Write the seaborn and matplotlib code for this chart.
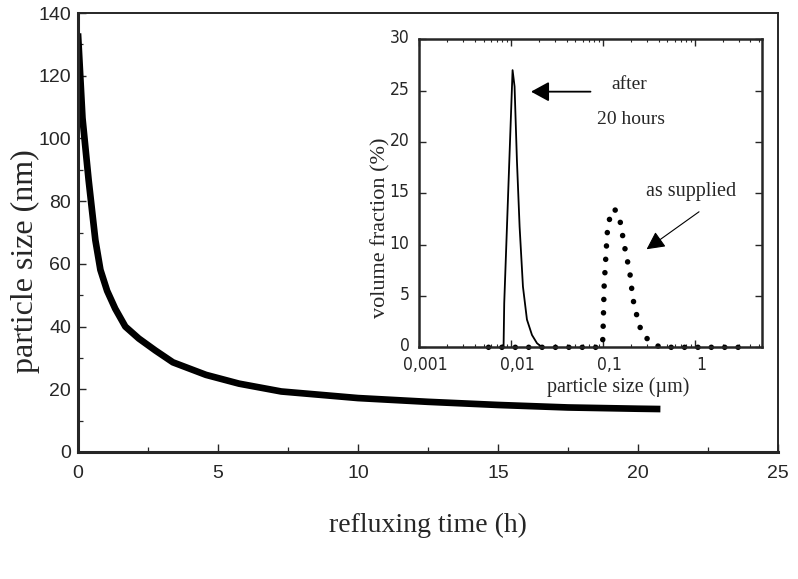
import numpy as np
import pandas as pd
import matplotlib
matplotlib.use("Agg")
import matplotlib.pyplot as plt
import matplotlib.transforms as mtransforms
import seaborn as sns
from matplotlib import font_manager
from matplotlib.ticker import FixedLocator, LogLocator, NullFormatter, FixedFormatter

# ---------------- data ----------------
reflux_time_h = [0, 0.16, 0.38, 0.5, 0.62, 0.8, 1.04, 1.33, 1.69, 2.17, 2.76, 3.39, 4.57,
                 5.75, 7.26, 10.0, 12.5, 15.0, 17.5, 20.0, 20.8]
particle_size_nm = [133.5, 106.5, 86.7, 77.1, 67.6, 58.1, 51.4, 45.7, 40.0, 36.2, 32.4, 28.6,
                    24.6, 21.8, 19.3, 17.2, 16.0, 15.0, 14.2, 13.8, 13.7]

after20h_size_um = [0.00825, 0.00839, 0.01034, 0.01087, 0.01153, 0.01233, 0.01341,
                    0.01482, 0.01681, 0.01905, 0.0216]
after20h_volfrac = [0.0, 4.3, 27.0, 25.4, 18.2, 11.75, 5.9, 2.7, 1.2, 0.4, 0.0]

supplied_size_um = [0.00566, 0.0951, 0.0992, 0.1025, 0.1106, 0.1163, 0.1329, 0.152,
                    0.1709, 0.1954, 0.2107, 0.2449, 0.2777, 0.357, 0.4222, 4.05]
supplied_volfrac = [0.0, 0.0, 0.8, 6.0, 11.1, 12.4, 13.5, 12.4,
                    9.8, 7.2, 4.7, 2.2, 1.1, 0.3, 0.0, 0.0]

main_xticks = [0, 5, 10, 15, 20, 25]
main_xminor = [2.5, 7.5, 12.5, 17.5, 22.5]
main_yticks = [0, 20, 40, 60, 80, 100, 120, 140]
main_yminor = [10, 30, 50, 70, 90, 110, 130]
inset_xticks = [0.001, 0.01, 0.1, 1]
inset_xticklabels = ["0,001", "0,01", "0,1", "1"]
inset_yticks = [0, 5, 10, 15, 20, 25, 30]

# ---------------- style ----------------
sns.set_style("ticks")
fonts = font_manager.fontManager.ttflist
avail = {f.name for f in fonts}
SANS = "Liberation Sans"
SERIF = "Liberation Serif"
if "Liberation Sans Narrow" in avail:
    NARROW_FAMILY, NARROW_STRETCH = "Liberation Sans Narrow", "normal"
elif any(f.name == "DejaVu Sans" and str(f.stretch) in ("condensed", "semi-condensed")
         for f in fonts):
    NARROW_FAMILY, NARROW_STRETCH = "DejaVu Sans", "condensed"
else:
    NARROW_FAMILY, NARROW_STRETCH = "Liberation Sans", "normal"
plt.rcParams["font.family"] = [SANS, "DejaVu Sans"]
plt.rcParams["axes.linewidth"] = 1.4

fig = plt.figure(figsize=(7.98, 5.79), dpi=100)
fig.patch.set_facecolor("white")

# ---------------- main axes ----------------
ax = fig.add_axes([78 / 798, 1 - 452 / 579, 700 / 798, 439 / 579])
main_df = pd.DataFrame({"t": reflux_time_h, "d": particle_size_nm})
sns.lineplot(data=main_df, x="t", y="d", ax=ax, color="black", lw=4.8,
             sort=False, estimator=None, solid_capstyle="butt",
             solid_joinstyle="round")
ax.set_xlim(0, 25)
ax.set_ylim(0, 140)
ax.xaxis.set_major_locator(FixedLocator(main_xticks))
ax.xaxis.set_minor_locator(FixedLocator(main_xminor))
ax.yaxis.set_major_locator(FixedLocator(main_yticks))
ax.yaxis.set_minor_locator(FixedLocator(main_yminor))
ax.tick_params(which="major", direction="in", length=6, width=1.0, labelsize=14)
ax.tick_params(which="minor", direction="in", length=3.5, width=0.9)
ax.tick_params(axis="x", which="major", pad=9)
ax.tick_params(axis="y", which="major", pad=5)
for lab in ax.get_xticklabels() + ax.get_yticklabels():
    lab.set_fontfamily(SANS)
for s in ["left", "bottom"]:
    ax.spines[s].set_linewidth(2.2)
for s in ["top", "right"]:
    ax.spines[s].set_linewidth(1.4)

ax.set_xlabel("refluxing time (h)", fontsize=20, family=SERIF, va="center")
ax.xaxis.set_label_coords(0.5, (452 - 525) / 439)
ax.set_ylabel("particle size (nm)", fontsize=23, family=SERIF, va="center")
ax.yaxis.set_label_coords((25 - 78) / 700, (452 - 261) / 439)

# ---------------- inset ----------------
ins = fig.add_axes([419.3 / 798, 1 - 347.3 / 579, 342.4 / 798, 308 / 579])
ins.set_facecolor("white")
ins.set_xscale("log")
a_df = pd.DataFrame({"s": after20h_size_um, "v": after20h_volfrac})
b_df = pd.DataFrame({"s": supplied_size_um, "v": supplied_volfrac})
sns.lineplot(data=a_df, x="s", y="v", ax=ins, color="black", lw=1.3,
             sort=False, estimator=None)
sns.lineplot(data=b_df, x="s", y="v", ax=ins, color="black", lw=4.0,
             sort=False, estimator=None, linestyle=(0, (0.01, 2.4)),
             dash_capstyle="round", clip_on=False)
ins.set_xlim(0.001, 5.3)
ins.set_ylim(0, 30)
ins.xaxis.set_major_locator(FixedLocator(inset_xticks))
ins.xaxis.set_major_formatter(FixedFormatter(inset_xticklabels))
ins.xaxis.set_minor_locator(LogLocator(base=10, subs=np.arange(2, 10) * 1.0, numticks=20))
ins.xaxis.set_minor_formatter(NullFormatter())
ins.yaxis.set_major_locator(FixedLocator(inset_yticks))
ins.tick_params(which="major", direction="in", length=5, width=1.0, labelsize=12.5,
                top=True, right=True)
ins.tick_params(which="minor", direction="in", length=2.5, width=0.8, top=True, right=True)
ins.tick_params(axis="x", which="major", pad=6)
ins.tick_params(axis="y", which="major", pad=7)
for lab in ins.get_xticklabels() + ins.get_yticklabels():
    lab.set_fontfamily(NARROW_FAMILY)
    lab.set_fontstretch(NARROW_STRETCH)
shift_right = mtransforms.ScaledTranslation(0.06, 0, fig.dpi_scale_trans)
for lab in ins.get_xticklabels():
    lab.set_transform(lab.get_transform() + shift_right)
shift_up = mtransforms.ScaledTranslation(0, 0.03, fig.dpi_scale_trans)
for lab in ins.get_yticklabels():
    lab.set_transform(lab.get_transform() + shift_up)
for s in ins.spines.values():
    s.set_linewidth(1.8)

ins.set_xlabel("particle size (\u00b5m)", fontsize=14.5, family=SERIF, va="center")
ins.xaxis.set_label_coords((618 - 419.3) / 342.4, (347.3 - 387) / 308)
ins.set_ylabel("volume fraction (%)", fontsize=16, family=SERIF, va="center")
ins.yaxis.set_label_coords((381 - 419.3) / 342.4, (347.3 - 227.5) / 308)

# annotations
ins.text(0.190, 25.55, "after", fontsize=14, family=SERIF, ha="center", va="center")
ins.text(0.2018, 22.2, "20 hours", fontsize=14, family=SERIF, ha="center", va="center")
ins.text(0.895, 15.15, "as supplied", fontsize=14.5, family=SERIF, ha="center", va="center")
ins.annotate("", xy=(0.0164, 24.9), xytext=(0.0728, 24.9),
             arrowprops=dict(arrowstyle="-|>,head_length=0.55,head_width=0.3",
                             lw=1.3, color="black", mutation_scale=20,
                             shrinkA=0, shrinkB=0))
ins.annotate("", xy=(0.2965, 9.55), xytext=(1.103, 13.2),
             arrowprops=dict(arrowstyle="-|>,head_length=0.55,head_width=0.28",
                             lw=0.8, color="black", mutation_scale=20,
                             shrinkA=0, shrinkB=0))

fig.savefig("out.png", dpi=100, facecolor="white")
